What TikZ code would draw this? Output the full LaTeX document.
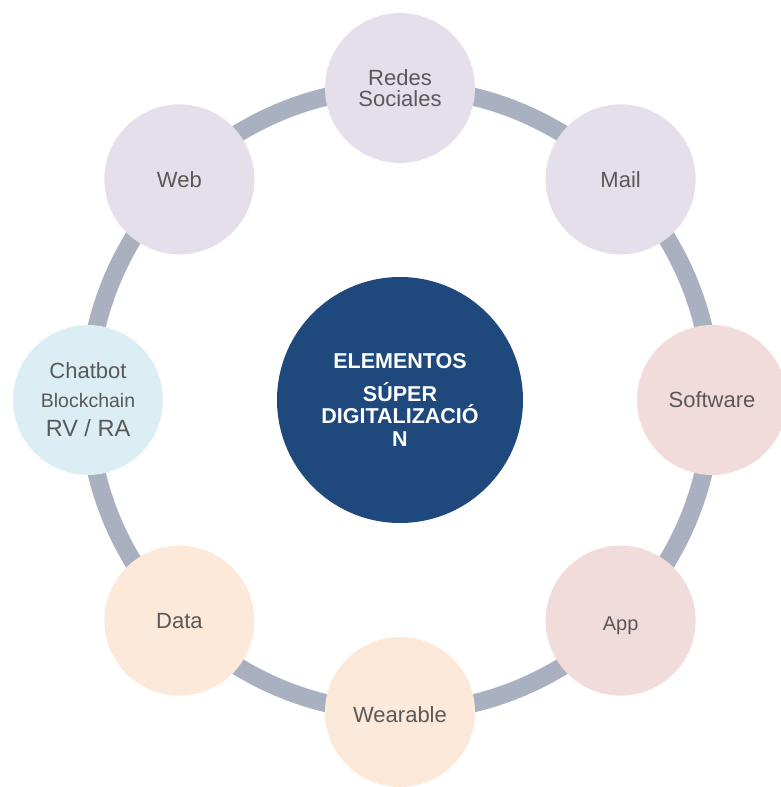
\documentclass[tikz,border=0pt]{standalone}
\usepackage{fontspec}
\setmainfont{Liberation Sans}
\usetikzlibrary{positioning}

\definecolor{ringgray}{HTML}{A9B0C0}
\definecolor{hubblue}{HTML}{1F497D}
\definecolor{lilac}{HTML}{E5DFEC}
\definecolor{rose}{HTML}{F2DCDB}
\definecolor{peach}{HTML}{FDE9D9}
\definecolor{skyblue}{HTML}{DBEEF4}
\definecolor{textgray}{HTML}{595959}

\tikzset{
  bubble/.style={circle, minimum size=150pt, inner sep=0pt, text=textgray, align=center,
    font=\fontsize{22}{21.5}\selectfont},
  hub/.style={circle, fill=hubblue, minimum size=246pt, inner sep=0pt, text=white, align=center,
    font=\bfseries\fontsize{21.5}{22.5}\selectfont},
  ring/.style={draw=ringgray, line width=18pt}
}

\begin{document}
\begin{tikzpicture}[x=1pt,y=1pt]
\useasboundingbox (-400,-387) rectangle (381,400);

% centre and ring
\node[hub] (hub) at (0,0) {ELEMENTOS\\[10pt]SÚPER\\DIGITALIZACIÓ\\N};
\draw[ring] (hub.center) circle (312);

% outer bubbles
\node[bubble, fill=lilac] (redes) at (90:312) {Redes\\Sociales};
\node[bubble, fill=lilac] (mail) at (45:312) {Mail};
\node[bubble, fill=rose] (software) at (0:312) {Software};
\node[bubble, fill=rose, font=\fontsize{20}{21}\selectfont] (app) at (-45:312) {\rule{0pt}{24pt}App};
\node[bubble, fill=peach] (wearable) at (-90:312) {\rule{0pt}{21pt}Wearable};
\node[bubble, fill=peach] (data) at (-135:312) {Data};
\node[bubble, fill=skyblue, font=\fontsize{22}{29}\selectfont] (chatbot) at (180:312)
  {Chatbot\\{\fontsize{19.5}{29}\selectfont Blockchain}\\{\fontsize{23.5}{29}\selectfont RV / RA}};
\node[bubble, fill=lilac] (web) at (135:312) {Web};
\end{tikzpicture}
\end{document}
